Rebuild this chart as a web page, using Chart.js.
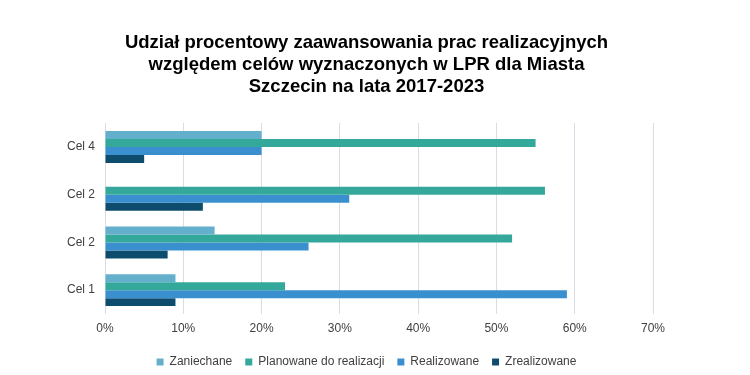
<!DOCTYPE html>
<html>
<head>
<meta charset="utf-8">
<script src="https://cdn.jsdelivr.net/npm/chart.js@4"></script>
<style>
  html, body { margin: 0; padding: 0; background: #fff; }
  #wrap { width: 750px; height: 375px; position: relative; }
</style>
</head>
<body>
<div id="wrap"><canvas id="c" width="750" height="375"></canvas></div>
<script>
const categories = ['Cel 4', 'Cel 2', 'Cel 2', 'Cel 1'];
const seriesNames = ['Zaniechane', 'Planowane do realizacji', 'Realizowane', 'Zrealizowane'];
const zaniechane = [20, 0, 14, 9];
const planowane = [55, 56.2, 52, 23];
const realizowane = [20, 31.2, 26, 59];
const zrealizowane = [5, 12.5, 8, 9];
const xTicks = [0, 10, 20, 30, 40, 50, 60, 70];
const titleLines = [
  'Udział procentowy zaawansowania prac realizacyjnych',
  'względem celów wyznaczonych w LPR dla Miasta',
  'Szczecin na lata 2017-2023'
];
const colors = ['#64afcb', '#34a89b', '#3a8fcf', '#0e4c6d'];

const seriesValues = [zaniechane, planowane, realizowane, zrealizowane];

Chart.defaults.font.family = "'Liberation Sans', Arial, sans-serif";
Chart.defaults.color = '#404040';

// shift title & legend centre to the right (as in the reference)
const shiftBlocks = {
  id: 'shiftBlocks',
  afterLayout(chart) {
    if (chart.titleBlock) chart.titleBlock.left += 22;
    if (chart.legend) chart.legend.left += 22;
  }
};

new Chart(document.getElementById('c'), {
  type: 'bar',
  data: {
    labels: categories,
    datasets: seriesNames.map((name, i) => ({
      label: name,
      data: seriesValues[i],
      backgroundColor: colors[i],
      borderWidth: 0,
      categoryPercentage: 0.67,
      barPercentage: 1.0
    }))
  },
  plugins: [shiftBlocks],
  options: {
    indexAxis: 'y',
    responsive: false,
    animation: false,
    layout: { padding: { top: 32, left: 58, right: 97, bottom: -3 } },
    plugins: {
      title: {
        display: true,
        text: titleLines,
        color: '#000',
        font: { size: 18.5, weight: 'bold', lineHeight: 1.19 },
        padding: { top: 0, bottom: 25 }
      },
      legend: {
        display: true,
        position: 'bottom',
        labels: {
          boxWidth: 7,
          boxHeight: 7,
          padding: 13,
          color: '#404040',
          font: { size: 12 }
        }
      },
      tooltip: { enabled: false }
    },
    scales: {
      x: {
        min: 0,
        max: 70,
        afterBuildTicks: (axis) => { axis.ticks = xTicks.map(v => ({ value: v })); },
        afterFit: (axis) => { axis.height = 29; },
        ticks: {
          callback: (v) => v + '%',
          color: '#404040',
          font: { size: 12 },
          padding: 7
        },
        grid: { color: '#dcdce6', lineWidth: 1, drawTicks: false },
        border: { display: false }
      },
      y: {
        afterFit: (axis) => { axis.width = 47; },
        ticks: {
          color: '#404040',
          font: { size: 12 },
          padding: 10
        },
        grid: { display: false, drawTicks: false },
        border: { display: false }
      }
    }
  }
});
</script>
</body>
</html>
